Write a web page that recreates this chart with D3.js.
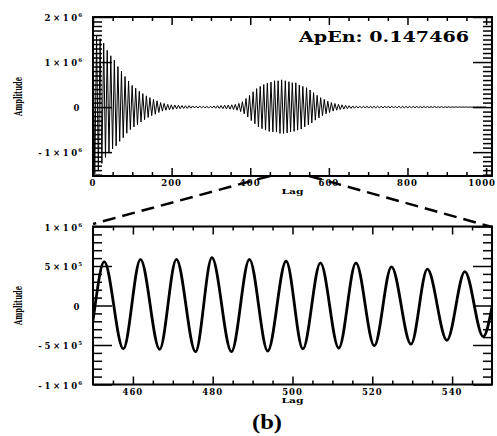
<!DOCTYPE html>
<html>
<head>
<meta charset="utf-8">
<script src="https://cdn.jsdelivr.net/npm/d3@7"></script>
<style>
  html, body { margin: 0; padding: 0; background: #fff; }
  svg { display: block; }
</style>
</head>
<body>
<svg id="fig" width="497" height="436"></svg>
<script>
// Autocorrelation: lags of successive extremes (peak / trough) and their amplitudes (in units of 10^6)
const lags = [
  0.0, 4.5, 9.1, 13.6, 18.1, 22.6, 27.2, 31.7, 36.2, 40.7,
  45.3, 49.8, 54.3, 58.8, 63.4, 67.9, 72.4, 76.9, 81.5, 86.0,
  90.5, 95.0, 99.6, 104.1, 108.6, 113.1, 117.7, 122.2, 126.7, 131.2,
  135.8, 140.3, 144.8, 149.3, 153.9, 158.4, 162.9, 167.4, 172.0, 176.5,
  181.0, 185.5, 190.1, 194.6, 199.1, 203.6, 208.2, 212.7, 217.2, 221.7,
  226.3, 230.8, 235.3, 239.8, 244.4, 248.9, 253.4, 257.9, 262.5, 267.0,
  271.5, 276.0, 280.6, 285.1, 289.6, 294.1, 298.7, 303.2, 307.7, 312.2,
  316.8, 321.3, 325.8, 330.3, 334.9, 339.4, 343.9, 348.4, 353.0, 357.5,
  362.0, 366.5, 371.1, 375.6, 380.1, 384.6, 389.2, 393.7, 398.2, 402.7,
  407.3, 411.8, 416.3, 420.8, 425.4, 429.9, 434.4, 438.9, 443.5, 448.3,
  452.8, 457.6, 461.9, 466.7, 470.9, 475.7, 479.8, 484.7, 489.2, 493.8,
  498.4, 502.6, 507.0, 511.6, 515.9, 520.5, 524.8, 529.7, 533.8, 538.7,
  543.2, 547.8, 552.3, 556.6, 561.1, 565.6, 570.2, 574.7, 579.2, 583.7,
  588.3, 592.8, 597.3, 601.8, 606.4, 610.9, 615.4, 619.9, 624.5, 629.0,
  633.5, 638.0, 642.6, 647.1, 651.6, 656.1, 660.7, 665.2, 669.7, 674.2,
  678.8, 683.3, 687.8, 692.3, 696.9, 701.4, 705.9, 710.4, 715.0, 719.5,
  724.0, 728.5, 733.1, 737.6, 742.1, 746.6, 751.2, 755.7, 760.2, 764.7,
  769.3, 773.8, 778.3, 782.8, 787.4, 791.9, 796.4, 800.9, 805.5, 810.0,
  814.5, 819.0, 823.6, 828.1, 832.6, 837.1, 841.7, 846.2, 850.7, 855.2,
  859.8, 864.3, 868.8, 873.3, 877.9, 882.4, 886.9, 891.4, 896.0, 900.5,
  905.0, 909.5, 914.1, 918.6, 923.1, 927.6, 932.2, 936.7, 941.2, 945.7,
  950.3, 954.8, 959.3, 963.8, 968.4, 972.9, 977.4, 981.9, 986.5, 991.0,
  995.5, 1000.0
];
const amplitude = [
  1.62, -1.48, 1.58, -1.40, 1.52, -1.25, 1.42, -1.12, 1.26, -1.02,
  1.14, -0.93, 1.04, -0.86, 0.90, -0.76, 0.80, -0.68, 0.68, -0.58,
  0.58, -0.50, 0.48, -0.44, 0.42, -0.39, 0.35, -0.33, 0.30, -0.28,
  0.25, -0.23, 0.21, -0.19, 0.17, -0.16, 0.14, -0.12, 0.10, -0.09,
  0.08, -0.07, 0.06, -0.06, 0.05, -0.05, 0.045, -0.04, 0.04, -0.035,
  0.035, -0.03, 0.03, -0.03, 0.03, -0.025, 0.025, -0.02, 0.02, -0.02,
  0.02, -0.015, 0.015, -0.015, 0.015, -0.02, 0.02, -0.02, 0.025, -0.025,
  0.03, -0.03, 0.035, -0.035, 0.04, -0.04, 0.045, -0.045, 0.05, -0.055,
  0.06, -0.07, 0.08, -0.10, 0.12, -0.15, 0.19, -0.22, 0.26, -0.30,
  0.34, -0.37, 0.41, -0.44, 0.46, -0.48, 0.50, -0.51, 0.53, -0.54,
  0.555, -0.55, 0.585, -0.555, 0.585, -0.585, 0.605, -0.585, 0.585, -0.576,
  0.563, -0.55, 0.54, -0.54, 0.54, -0.51, 0.49, -0.49, 0.46, -0.44,
  0.43, -0.395, 0.38, -0.35, 0.32, -0.29, 0.26, -0.24, 0.21, -0.19,
  0.17, -0.15, 0.13, -0.12, 0.10, -0.09, 0.08, -0.07, 0.06, -0.055,
  0.05, -0.045, 0.04, -0.035, 0.03, -0.03, 0.025, -0.025, 0.02, -0.018,
  0.016, -0.015, 0.014, -0.013, 0.013, -0.014, 0.015, -0.016, 0.017, -0.018,
  0.019, -0.02, 0.02, -0.02, 0.021, -0.021, 0.021, -0.02, 0.02, -0.02,
  0.02, -0.019, 0.019, -0.018, 0.018, -0.017, 0.017, -0.016, 0.016, -0.015,
  0.015, -0.014, 0.014, -0.013, 0.013, -0.012, 0.012, -0.011, 0.011, -0.01,
  0.01, -0.01, 0.01, -0.009, 0.009, -0.008, 0.008, -0.008, 0.007, -0.007,
  0.006, -0.006, 0.005, -0.005, 0.005, -0.004, 0.004, -0.004, 0.003, -0.003,
  0.003, -0.003, 0.002, -0.002, 0.002, -0.002, 0.002, -0.001, 0.001, -0.001,
  0.001, -0.001
];
const UNIT = 1e6;

// Full-range panel
const fullLagDomain = [0, 1015];
const fullAmpDomain = [-1.53e6, 2e6];
const fullXTicks = [0, 200, 400, 600, 800, 1000];
const fullXMinor = [50, 100, 150, 250, 300, 350, 450, 500, 550, 650, 700, 750, 850, 900, 950];
const fullYTicks = [2e6, 1e6, 0, -1e6];
const fullYLabels = [["2×10", "6"], ["1×10", "6"], ["0", ""], ["-1×10", "6"]];

// Zoomed panel
const zoomLagDomain = [450, 550];
const zoomAmpDomain = [-1e6, 1e6];
const zoomXTicks = [460, 480, 500, 520, 540];
const zoomXMinor = [455, 465, 470, 475, 485, 490, 495, 505, 510, 515, 525, 530, 535, 545];
const zoomYTicks = [1e6, 5e5, 0, -5e5, -1e6];
const zoomYLabels = [["1×10", "6"], ["5×10", "5"], ["0", ""], ["-5×10", "5"], ["-1×10", "6"]];

const apenLabel = "ApEn: 0.147466";
const xTitle = "Lag";
const yTitle = "Amplitude";
const panelTag = "(b)";

const series = lags.map((l, i) => ({ lag: l, value: amplitude[i] * UNIT }));

const svg = d3.select("#fig");
const SERIF = "'DejaVu Serif', 'Liberation Serif', serif";
const WIDTH = +svg.attr("width");

function minorY(domain, step, majors) {
  const out = [];
  const lo = Math.ceil(domain[0] / step), hi = Math.floor(domain[1] / step);
  for (let k = lo; k <= hi; k++) {
    const v = k * step;
    if (!majors.some(m => Math.abs(m - v) < 1)) out.push(v);
  }
  return out;
}

function drawPanel(cfg) {
  const { x, y, id } = cfg;
  const [x0, x1] = x.range();
  const [y1, y0] = y.range();
  const g = svg.append("g");

  // data
  g.append("clipPath").attr("id", id).append("rect")
    .attr("x", x0).attr("y", y0).attr("width", x1 - x0).attr("height", y1 - y0);
  const line = d3.line().x(d => x(d.lag)).y(d => y(d.value)).curve(cfg.curve);
  g.append("path").datum(cfg.data)
    .attr("clip-path", `url(#${id})`)
    .attr("fill", "none").attr("stroke", "#000")
    .attr("stroke-width", cfg.lineWidth).attr("stroke-linejoin", "round")
    .attr("d", line);

  // ticks on all four sides, pointing inward
  const yMinor = minorY(y.domain(), 1e5, cfg.yMajor);
  const tickAxis = (axis, tr, vals, len) => {
    const a = g.append("g").attr("transform", tr)
      .call(axis.tickValues(vals).tickSize(-len).tickFormat(""));
    a.select(".domain").remove();
    a.selectAll(".tick line").attr("stroke", "#000").attr("stroke-width", 1.5);
  };
  tickAxis(d3.axisBottom(x), `translate(0,${y1})`, cfg.xMajor, 8);
  tickAxis(d3.axisBottom(x), `translate(0,${y1})`, cfg.xMinor, 4);
  tickAxis(d3.axisTop(x), `translate(0,${y0})`, cfg.xMajor, 8);
  tickAxis(d3.axisTop(x), `translate(0,${y0})`, cfg.xMinor, 4);
  tickAxis(d3.axisLeft(y), `translate(${x0},0)`, cfg.yMajor, 19);
  tickAxis(d3.axisLeft(y), `translate(${x0},0)`, yMinor, 9);
  tickAxis(d3.axisRight(y), `translate(${x1},0)`, cfg.yMajor, 19);
  tickAxis(d3.axisRight(y), `translate(${x1},0)`, yMinor, 9);

  // frame
  g.append("rect").attr("x", x0).attr("y", y0).attr("width", x1 - x0).attr("height", y1 - y0)
    .attr("fill", "none").attr("stroke", "#000").attr("stroke-width", 2);

  // x tick labels (the last one is kept inside the page edge)
  g.selectAll(".xl").data(cfg.xMajor).join("text")
    .attr("y", y1 + cfg.xLabelOffset)
    .attr("font-family", SERIF).attr("font-weight", "bold").attr("font-size", 8.5)
    .attr("letter-spacing", 1)
    .text(d => d)
    .each(function (d) {
      const t = d3.select(this);
      const w = this.getComputedTextLength();
      const cx = Math.min(x(d), WIDTH - 1 - w / 2);
      t.attr("x", cx).attr("text-anchor", "middle");
    });

  // y tick labels with superscript exponent
  const yl = g.selectAll(".yl").data(cfg.yMajor).join("text")
    .attr("x", 82).attr("y", d => y(d) + 4)
    .attr("text-anchor", "end")
    .attr("font-family", SERIF).attr("font-weight", "bold").attr("font-size", 8.5);
  yl.append("tspan").attr("letter-spacing", 2.6).text((d, i) => cfg.yLabels[i][0]);
  yl.append("tspan").attr("font-size", 5.5).attr("dy", -4).attr("dx", -1.5)
    .text((d, i) => cfg.yLabels[i][1]);

  // axis titles
  g.append("text").attr("x", (x0 + x1) / 2).attr("y", y1 + cfg.xTitleOffset)
    .attr("text-anchor", "middle")
    .attr("font-family", SERIF).attr("font-weight", "bold").attr("font-size", 8)
    .attr("textLength", 22).attr("lengthAdjust", "spacingAndGlyphs")
    .text(xTitle);
  g.append("text")
    .attr("transform", `translate(21.5,${(y0 + y1) / 2}) rotate(-90)`)
    .attr("text-anchor", "middle")
    .attr("font-family", SERIF).attr("font-weight", "bold").attr("font-size", 11)
    .attr("textLength", 39).attr("lengthAdjust", "spacingAndGlyphs")
    .text(yTitle);
  return g;
}

const xFull = d3.scaleLinear().domain(fullLagDomain).range([93, 492]);
const yFull = d3.scaleLinear().domain(fullAmpDomain).range([176, 17]);
const xZoom = d3.scaleLinear().domain(zoomLagDomain).range([93, 492]);
const yZoom = d3.scaleLinear().domain(zoomAmpDomain).range([384.5, 226.5]);

const pTop = drawPanel({
  id: "clipFull", x: xFull, y: yFull, data: series, curve: d3.curveLinear, lineWidth: 1,
  xMajor: fullXTicks, xMinor: fullXMinor, yMajor: fullYTicks, yLabels: fullYLabels,
  xLabelOffset: 9.5, xTitleOffset: 17.5
});
pTop.append("text").attr("x", 299).attr("y", 42)
  .attr("font-family", SERIF).attr("font-weight", "bold").attr("font-size", 14)
  .attr("textLength", 170).attr("lengthAdjust", "spacingAndGlyphs")
  .text(apenLabel);

const zoomData = series.filter(d => d.lag > zoomLagDomain[0] - 10 && d.lag < zoomLagDomain[1] + 10);
drawPanel({
  id: "clipZoom", x: xZoom, y: yZoom, data: zoomData, curve: d3.curveMonotoneX, lineWidth: 2.8,
  xMajor: zoomXTicks, xMinor: zoomXMinor, yMajor: zoomYTicks, yLabels: zoomYLabels,
  xLabelOffset: 10, xTitleOffset: 18.5
});

// dashed connectors from the zoomed lag window to the lower panel
const connector = d3.line();
[[zoomLagDomain[0], xZoom.range()[0], 224], [zoomLagDomain[1], xZoom.range()[1], 227]].forEach(([lag, bx, by]) => {
  svg.append("path")
    .attr("d", connector([[xFull(lag), yFull.range()[0]], [bx, by]]))
    .attr("fill", "none").attr("stroke", "#000").attr("stroke-width", 2.5)
    .attr("stroke-dasharray", "13,7");
});

svg.append("text").attr("x", 267).attr("y", 429)
  .attr("text-anchor", "middle")
  .attr("font-family", "'Liberation Serif', serif").attr("font-weight", "bold").attr("font-size", 22)
  .attr("textLength", 30).attr("lengthAdjust", "spacingAndGlyphs")
  .text(panelTag);
</script>
</body>
</html>
